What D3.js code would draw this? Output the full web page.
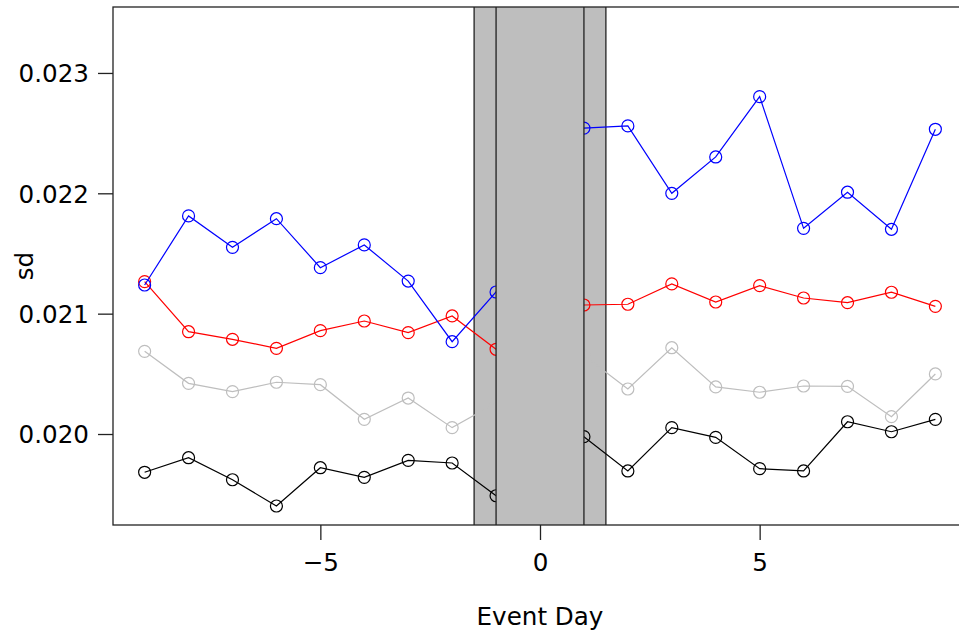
<!DOCTYPE html>
<html>
<head>
<meta charset="utf-8">
<script src="https://cdn.jsdelivr.net/npm/d3@7"></script>
<style>
  html, body { margin: 0; padding: 0; background: #fff; }
  svg { display: block; font-family: "DejaVu Sans", sans-serif; }
</style>
</head>
<body>
<svg id="chart" width="959" height="632"></svg>
<script>
// Event days and the standard deviation of each group per day
const days = [-9, -8, -7, -6, -5, -4, -3, -2, -1, 0, 1, 2, 3, 4, 5, 6, 7, 8, 9];

const blueSd  = [0.021238, 0.021812, 0.021551, 0.021789, 0.021382, 0.021571, 0.021271, 0.020767, 0.021180, 0.021900,
                 0.022542, 0.022560, 0.022000, 0.022302, 0.022803, 0.021709, 0.022009, 0.021701, 0.022532];
const redSd   = [0.021266, 0.020850, 0.020787, 0.020712, 0.020859, 0.020939, 0.020842, 0.020981, 0.020704, 0.020900,
                 0.021072, 0.021078, 0.021247, 0.021097, 0.021233, 0.021130, 0.021091, 0.021178, 0.021061];
const greySd  = [0.020687, 0.020421, 0.020352, 0.020430, 0.020410, 0.020122, 0.020299, 0.020053, 0.020258, 0.020450,
                 0.020652, 0.020374, 0.020717, 0.020391, 0.020347, 0.020399, 0.020396, 0.020144, 0.020499];
const blackSd = [0.019682, 0.019803, 0.019620, 0.019402, 0.019720, 0.019640, 0.019781, 0.019759, 0.019487, 0.019700,
                 0.019978, 0.019693, 0.020053, 0.019972, 0.019712, 0.019693, 0.020102, 0.020019, 0.020122];

const seriesColors = ["#bebebe", "#000000", "#ff0000", "#0000ff"];
const seriesValues = [greySd, blackSd, redSd, blueSd];

const xTicks = [-5, 0, 5];
const yTicks = [0.020, 0.021, 0.022, 0.023];
const xDomain = [-9.72, 9.72];
const yDomain = [0.019244, 0.023548];
const outerWindow = [-1.5, 1.5];
const innerWindow = [-1, 1];

const fontSize = 24.6;
const margin = { left: 113, top: 7, right: 967, bottom: 525 };
const svg = d3.select("#chart");

const x = d3.scaleLinear().domain(xDomain).range([margin.left, margin.right]);
const y = d3.scaleLinear().domain(yDomain).range([margin.bottom, margin.top]);

svg.append("defs").append("clipPath").attr("id", "plotClip")
  .append("rect")
  .attr("x", margin.left).attr("y", margin.top)
  .attr("width", margin.right - margin.left)
  .attr("height", margin.bottom - margin.top);

const plot = svg.append("g").attr("clip-path", "url(#plotClip)");

function windowRect(win) {
  plot.append("rect")
    .attr("x", x(win[0]))
    .attr("y", margin.top - 2)
    .attr("width", x(win[1]) - x(win[0]))
    .attr("height", margin.bottom - margin.top + 4)
    .attr("fill", "#bebebe")
    .attr("stroke", "#222")
    .attr("stroke-width", 1.3);
}

// wider event window sits beneath the series
windowRect(outerWindow);

const line = d3.line().x(d => x(d[0])).y(d => y(d[1]));

seriesValues.forEach((vals, i) => {
  const pts = days.map((d, j) => [d, vals[j]]);
  plot.append("path")
    .attr("d", line(pts))
    .attr("fill", "none")
    .attr("stroke", seriesColors[i])
    .attr("stroke-width", 1.2);
  plot.append("g").selectAll("circle")
    .data(pts)
    .join("circle")
    .attr("cx", d => x(d[0]))
    .attr("cy", d => y(d[1]))
    .attr("r", 6)
    .attr("fill", "none")
    .attr("stroke", seriesColors[i])
    .attr("stroke-width", 1.2);
});

// core event window covers the series
windowRect(innerWindow);

// plot frame
svg.append("rect")
  .attr("x", margin.left).attr("y", margin.top)
  .attr("width", margin.right - margin.left)
  .attr("height", margin.bottom - margin.top)
  .attr("fill", "none")
  .attr("stroke", "#222")
  .attr("stroke-width", 1.3);

// x axis
const xAxis = svg.append("g")
  .attr("transform", `translate(0,${margin.bottom})`)
  .call(d3.axisBottom(x).tickValues(xTicks).tickSize(15).tickPadding(0)
        .tickFormat(d => d < 0 ? "\u2212" + Math.abs(d) : String(d)));
xAxis.select(".domain").remove();
xAxis.selectAll(".tick line").attr("stroke", "#222").attr("stroke-width", 1.3);
xAxis.selectAll(".tick text")
  .attr("y", 46).attr("dy", 0)
  .attr("font-size", fontSize).attr("fill", "#000")
  .attr("font-family", "DejaVu Sans, sans-serif");

// y axis
const yAxis = svg.append("g")
  .attr("transform", `translate(${margin.left},0)`)
  .call(d3.axisLeft(y).tickValues(yTicks).tickSize(15).tickPadding(0)
        .tickFormat(d3.format(".3f")));
yAxis.select(".domain").remove();
yAxis.selectAll(".tick line").attr("stroke", "#222").attr("stroke-width", 1.3);
yAxis.selectAll(".tick text")
  .attr("x", -24).attr("dy", "0.36em")
  .attr("font-size", fontSize).attr("fill", "#000")
  .attr("font-family", "DejaVu Sans, sans-serif");

// axis titles
svg.append("text")
  .attr("x", x(0)).attr("y", 625)
  .attr("text-anchor", "middle")
  .attr("font-size", fontSize)
  .text("Event Day");

svg.append("text")
  .attr("transform", `translate(33,${(margin.top + margin.bottom) / 2}) rotate(-90)`)
  .attr("text-anchor", "middle")
  .attr("font-size", fontSize)
  .text("sd");
</script>
</body>
</html>
